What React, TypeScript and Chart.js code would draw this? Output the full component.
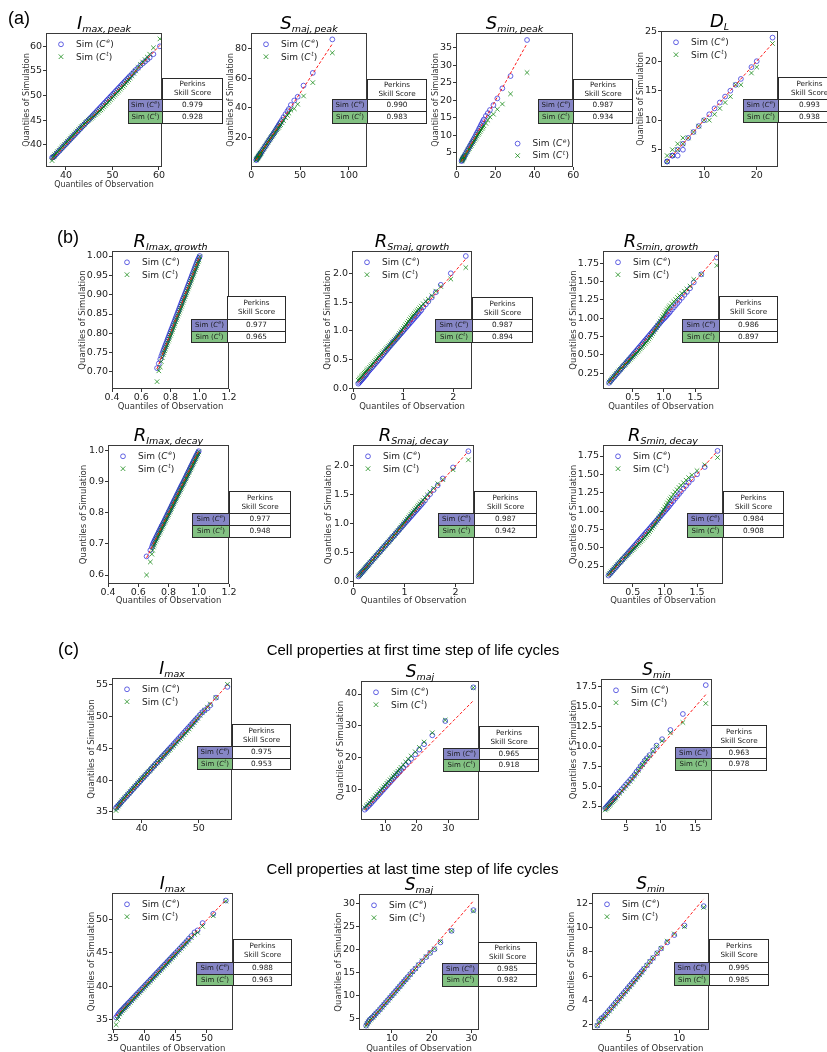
import React, { useEffect, useRef } from 'react';
import { Chart, registerables } from 'chart.js';

Chart.register(...registerables);
Chart.defaults.font.family = '"DejaVu Sans", sans-serif';

// ---------------- DATA ----------------
// (a) peak properties
const a1Obs = [37.0,37.2,37.4,37.6,37.9,38.2,38.5,38.8,39.1,39.4, 39.7,40.0,40.3,40.6,40.9,41.2,41.5,41.8,42.1,42.4, 42.7,43.0,43.3,43.6,43.9,44.2,44.5,44.8,45.1,45.4, 45.7,46.0,46.3,46.6,46.9,47.2,47.5,47.8,48.1,48.4, 48.7,49.0,49.3,49.6,49.9,50.2,50.5,50.8,51.1,51.4, 51.7,52.0,52.3,52.6,52.9,53.2,53.5,53.8,54.2,54.6, 55.0,55.5,56.0,56.5,57.0,57.5,58.0,58.8,60.2];
const a1SimE = [37.4,37.5,37.6,37.8,38.1,38.4,38.7,39.0,39.3,39.6, 39.9,40.2,40.5,40.8,41.1,41.4,41.7,42.0,42.3,42.6, 42.9,43.2,43.5,43.8,44.1,44.4,44.7,45.0,45.3,45.6, 45.9,46.2,46.5,46.8,47.1,47.4,47.7,48.0,48.3,48.6, 48.9,49.2,49.5,49.8,50.1,50.4,50.7,51.0,51.3,51.6, 51.9,52.2,52.5,52.8,53.1,53.4,53.7,54.0,54.4,54.8, 55.2,55.6,56.1,56.5,56.9,57.3,57.7,58.4,60.0];
const a1SimT = [36.8,37.4,37.7,38.0,38.3,38.6,38.9,39.2,39.5,39.8, 40.1,40.4,40.7,41.0,41.3,41.6,41.9,42.2,42.5,42.8, 43.1,43.4,43.7,43.9,44.2,44.5,44.7,45.0,45.2,45.4, 45.6,45.9,46.1,46.4,46.6,46.9,47.1,47.4,47.7,48.0, 48.3,48.6,48.9,49.2,49.5,49.8,50.1,50.4,50.7,51.0, 51.3,51.6,51.9,52.2,52.6,52.9,53.2,53.6,54.0,54.5, 55.0,55.7,56.3,56.8,57.3,57.8,58.4,59.7,61.5];
const a1Scores = ['0.979', '0.928'];
const a1XTicks = [40, 50, 60]; const a1XLabels = ['40', '50', '60'];
const a1YTicks = [40, 45, 50, 55, 60]; const a1YLabels = ['40', '45', '50', '55', '60'];

const a2Obs = [5,5.5,6,6.5,7,7.5,8,8.5,9,9.5,10,11,12,13,14,15,16,17,18,19,20,21,22,23,24,25,26,27,28,29,30,31.5,33,35,37,38.5,40.5,44,47.5,53.5,63,83];
const a2SimE = [5,5.5,6,6.5,7,7.5,8,8.5,9,9.5,10,11,12,13,14,15,16,17,18,19,20,21,22,23,24,25.1,26.2,27.3,28.3,29.4,30.5,32,33.8,35.8,37.8,39.3,42,45,47.5,55,63.5,86];
const a2SimT = [5,5.5,6,6.5,7,7.5,8,8.5,9,9.5,10,11,12,13,14,15,16,17,18,19,19.9,20.8,21.7,22.6,23.5,24.4,25.3,26.2,27,28,28.8,30,31.5,33.5,35,36.5,38.5,39.5,42.5,48,57,77];
const a2Scores = ['0.990', '0.983'];
const a2XTicks = [0, 50, 100]; const a2XLabels = ['0', '50', '100'];
const a2YTicks = [20, 40, 60, 80]; const a2YLabels = ['20', '40', '60', '80'];

const a3Obs = [2.5,2.75,3,3.25,3.5,3.75,4,4.5,5,5.5,6,6.5,7,7.5,8,8.5,9,9.5,10,10.5,11,11.5,12,12.5,13,13.5,14,15,16,17.1,18.9,20.9,23.5,27.7,36.2];
const a3SimE = [2.6,2.85,3.1,3.35,3.6,3.85,4.1,4.6,5.1,5.6,6.1,6.6,7.1,7.6,8.1,8.6,9.1,9.6,10.2,10.7,11.2,11.8,12.3,12.9,13.4,14,14.5,15.5,16.3,17.2,18.6,20.5,23.4,26.9,37.2];
const a3SimT = [2.6,2.85,3.1,3.3,3.5,3.75,4,4.4,4.9,5.3,5.8,6.2,6.7,7.1,7.6,8,8.4,8.9,9.3,9.8,10.2,10.6,11,11.5,11.9,12.3,12.7,13.4,14.3,15.2,16,17.4,18.9,21.8,27.9];
const a3Scores = ['0.987', '0.934'];
const a3XTicks = [0, 20, 40, 60]; const a3XLabels = ['0', '20', '40', '60'];
const a3YTicks = [5, 10, 15, 20, 25, 30, 35]; const a3YLabels = ['5', '10', '15', '20', '25', '30', '35'];

const a4Obs = [3,3,4,4,5,5,6,6,7,8,9,10,11,12,13,14,15,16,17,19,20,23];
const a4SimE = [3,3,4,4,4,5,5,6,7,8,9,10,11,12,13,14,15,16,17,19,20,24];
const a4SimT = [3,4,4,5,5,6,6,7,7,8,9,10,10,11,12,13,14,16,16,18,19,23];
const a4Scores = ['0.993', '0.938'];
const a4XTicks = [10, 20]; const a4XLabels = ['10', '20'];
const a4YTicks = [5, 10, 15, 20, 25]; const a4YLabels = ['5', '10', '15', '20', '25'];

// (b) growth / decay rates
const b1Obs = [0.708,0.72,0.73,0.737,0.744, 0.75,0.755,0.76,0.765,0.77,0.775,0.78,0.785,0.79,0.795, 0.8,0.805,0.81,0.815,0.82,0.825,0.83,0.835,0.84,0.845, 0.85,0.855,0.86,0.865,0.87,0.875,0.88,0.885,0.89,0.895, 0.9,0.905,0.91,0.915,0.92,0.925,0.93,0.935,0.94,0.945, 0.95,0.955,0.96,0.965,0.97,0.975,0.98,0.985,0.99,0.995,1.0];
const b1SimE = [0.71,0.722,0.733,0.741,0.748, 0.754,0.759,0.764,0.769,0.774,0.779,0.784,0.789,0.794,0.799, 0.804,0.809,0.814,0.819,0.824,0.829,0.834,0.839,0.844,0.849, 0.854,0.859,0.864,0.869,0.874,0.879,0.884,0.889,0.893,0.898, 0.903,0.908,0.913,0.918,0.923,0.928,0.933,0.938,0.943,0.948, 0.953,0.958,0.963,0.968,0.973,0.978,0.983,0.988,0.992,0.996,1.0];
const b1SimT = [0.675,0.703,0.713,0.727,0.737, 0.745,0.75,0.755,0.76,0.765,0.77,0.775,0.78,0.785,0.79, 0.795,0.8,0.805,0.81,0.815,0.82,0.825,0.83,0.835,0.84, 0.845,0.85,0.855,0.86,0.865,0.87,0.875,0.88,0.885,0.89, 0.895,0.9,0.905,0.91,0.915,0.92,0.925,0.93,0.935,0.94, 0.945,0.95,0.955,0.96,0.965,0.97,0.975,0.98,0.985,0.99,0.998];
const b1Scores = ['0.977', '0.965'];
const b1XTicks = [0.4, 0.6, 0.8, 1.0, 1.2]; const b1XLabels = ['0.4', '0.6', '0.8', '1.0', '1.2'];
const b1YTicks = [0.7, 0.75, 0.8, 0.85, 0.9, 0.95, 1.0]; const b1YLabels = ['0.70', '0.75', '0.80', '0.85', '0.90', '0.95', '1.00'];

const b2Obs = [0.1,0.12,0.14,0.16,0.18,0.2,0.22,0.24,0.26,0.28, 0.3,0.325,0.35,0.375,0.4,0.425,0.45,0.475,0.5,0.525, 0.55,0.575,0.6,0.625,0.65,0.675,0.7,0.725,0.75,0.775, 0.8,0.825,0.85,0.875,0.9,0.925,0.95,0.975,1.0,1.025, 1.05,1.075,1.1,1.125,1.15,1.175,1.2,1.225,1.25,1.275, 1.3,1.33,1.36,1.4,1.45,1.5,1.57,1.65,1.75,1.95,2.25];
const b2SimE = [0.08,0.1,0.12,0.14,0.16,0.18,0.2,0.22,0.24,0.27, 0.29,0.315,0.34,0.365,0.39,0.415,0.44,0.466,0.491,0.517, 0.542,0.568,0.594,0.62,0.646,0.672,0.698,0.724,0.75,0.776, 0.8,0.825,0.85,0.875,0.9,0.925,0.95,0.975,1.0,1.025, 1.05,1.075,1.1,1.125,1.15,1.175,1.2,1.225,1.25,1.275, 1.3,1.33,1.36,1.41,1.46,1.51,1.58,1.67,1.8,2.0,2.3];
const b2SimT = [0.14,0.16,0.18,0.2,0.22,0.24,0.26,0.28,0.3,0.32, 0.34,0.365,0.39,0.415,0.44,0.465,0.49,0.515,0.54,0.565, 0.59,0.613,0.636,0.659,0.682,0.705,0.728,0.752,0.776,0.8, 0.824,0.848,0.872,0.897,0.925,0.955,0.985,1.015,1.045,1.075, 1.105,1.135,1.165,1.195,1.225,1.25,1.275,1.3,1.325,1.35, 1.375,1.4,1.43,1.47,1.51,1.55,1.61,1.69,1.77,1.9,2.1];
const b2Scores = ['0.987', '0.894'];
const b2XTicks = [0, 1, 2]; const b2XLabels = ['0', '1', '2'];
const b2YTicks = [0, 0.5, 1.0, 1.5, 2.0]; const b2YLabels = ['0.0', '0.5', '1.0', '1.5', '2.0'];

const b3Obs = [0.12,0.14,0.16,0.18,0.2,0.22,0.24,0.26,0.28,0.3, 0.32,0.34,0.36,0.38,0.4,0.42,0.44,0.46,0.48,0.5, 0.52,0.54,0.56,0.58,0.6,0.62,0.64,0.66,0.68,0.7, 0.72,0.74,0.76,0.78,0.8,0.82,0.84,0.86,0.88,0.9, 0.92,0.94,0.96,0.98,1.0,1.02,1.04,1.06,1.08,1.1, 1.13,1.16,1.19,1.22,1.25,1.29,1.33,1.37,1.42,1.48,1.6,1.85];
const b3SimE = [0.12,0.14,0.16,0.18,0.2,0.22,0.24,0.26,0.28,0.3, 0.32,0.34,0.36,0.38,0.4,0.42,0.44,0.46,0.48,0.5, 0.52,0.54,0.56,0.58,0.6,0.62,0.64,0.66,0.68,0.7, 0.72,0.74,0.76,0.78,0.8,0.82,0.84,0.86,0.88,0.9, 0.92,0.94,0.96,0.98,0.995,1.013,1.032,1.051,1.07,1.09, 1.12,1.15,1.18,1.21,1.24,1.28,1.32,1.36,1.41,1.49,1.6,1.83];
const b3SimT = [0.13,0.15,0.17,0.19,0.21,0.23,0.25,0.27,0.29,0.305, 0.322,0.339,0.356,0.373,0.39,0.407,0.424,0.441,0.458,0.475, 0.492,0.51,0.528,0.546,0.564,0.582,0.6,0.619,0.638,0.657, 0.677,0.698,0.72,0.743,0.767,0.792,0.818,0.845,0.873,0.902, 0.932,0.962,0.992,1.022,1.05,1.078,1.104,1.128,1.15,1.172, 1.2,1.228,1.256,1.284,1.31,1.34,1.37,1.4,1.44,1.53,1.6,1.72];
const b3Scores = ['0.986', '0.897'];
const b3XTicks = [0.5, 1.0, 1.5]; const b3XLabels = ['0.5', '1.0', '1.5'];
const b3YTicks = [0.25, 0.5, 0.75, 1.0, 1.25, 1.5, 1.75]; const b3YLabels = ['0.25', '0.50', '0.75', '1.00', '1.25', '1.50', '1.75'];

const b4Obs = [0.655,0.68,0.69,0.695, 0.7,0.705,0.71,0.715,0.72,0.725,0.73,0.735,0.74,0.745, 0.75,0.755,0.76,0.765,0.77,0.775,0.78,0.785,0.79,0.795, 0.8,0.805,0.81,0.815,0.82,0.825,0.83,0.835,0.84,0.845, 0.85,0.855,0.86,0.865,0.87,0.875,0.88,0.885,0.89,0.895, 0.9,0.905,0.91,0.915,0.92,0.925,0.93,0.935,0.94,0.945, 0.95,0.955,0.96,0.965,0.97,0.975,0.98,0.985,0.99,0.995,1.0];
const b4SimE = [0.66,0.68,0.69,0.697, 0.703,0.708,0.713,0.718,0.723,0.728,0.733,0.738,0.743,0.748, 0.753,0.758,0.762,0.767,0.772,0.777,0.782,0.787,0.792,0.797, 0.802,0.807,0.812,0.817,0.822,0.827,0.832,0.837,0.842,0.847, 0.852,0.857,0.862,0.867,0.872,0.877,0.882,0.887,0.891,0.896, 0.901,0.906,0.911,0.916,0.921,0.926,0.931,0.936,0.941,0.946, 0.951,0.956,0.961,0.966,0.971,0.976,0.981,0.986,0.99,0.995,0.999];
const b4SimT = [0.60,0.642,0.667,0.68, 0.69,0.697,0.703,0.709,0.715,0.72,0.725,0.73,0.735,0.74, 0.745,0.75,0.755,0.76,0.765,0.77,0.775,0.78,0.785,0.79, 0.795,0.8,0.805,0.81,0.815,0.82,0.825,0.83,0.835,0.84, 0.845,0.85,0.855,0.86,0.865,0.87,0.875,0.88,0.885,0.89, 0.895,0.9,0.905,0.91,0.915,0.92,0.925,0.93,0.935,0.94, 0.945,0.95,0.955,0.96,0.965,0.97,0.975,0.98,0.985,0.99,0.997];
const b4Scores = ['0.977', '0.948'];
const b4XTicks = [0.4, 0.6, 0.8, 1.0, 1.2]; const b4XLabels = ['0.4', '0.6', '0.8', '1.0', '1.2'];
const b4YTicks = [0.6, 0.7, 0.8, 0.9, 1.0]; const b4YLabels = ['0.6', '0.7', '0.8', '0.9', '1.0'];

const b5Obs = [0.1,0.12,0.14,0.16,0.18,0.2,0.22,0.24,0.26,0.28, 0.3,0.325,0.35,0.375,0.4,0.425,0.45,0.475,0.5,0.525, 0.55,0.575,0.6,0.625,0.65,0.675,0.7,0.725,0.75,0.775, 0.8,0.825,0.85,0.875,0.9,0.925,0.95,0.975,1.0,1.025, 1.05,1.075,1.1,1.125,1.15,1.175,1.2,1.225,1.25,1.275, 1.3,1.33,1.36,1.4,1.45,1.5,1.57,1.65,1.75,1.95,2.25];
const b5SimE = [0.09,0.11,0.13,0.155,0.175,0.195,0.215,0.235,0.255,0.275, 0.3,0.325,0.35,0.375,0.4,0.425,0.45,0.475,0.5,0.525, 0.55,0.575,0.6,0.625,0.65,0.675,0.7,0.725,0.75,0.775, 0.8,0.825,0.85,0.875,0.9,0.925,0.95,0.975,1.0,1.025, 1.05,1.075,1.1,1.125,1.15,1.175,1.2,1.225,1.25,1.275, 1.3,1.33,1.36,1.4,1.46,1.51,1.58,1.66,1.78,1.97,2.25];
const b5SimT = [0.1,0.12,0.14,0.16,0.18,0.2,0.22,0.24,0.26,0.28, 0.3,0.325,0.35,0.375,0.4,0.425,0.45,0.475,0.5,0.525, 0.55,0.575,0.6,0.625,0.65,0.675,0.7,0.725,0.75,0.775, 0.8,0.828,0.856,0.884,0.912,0.94,0.968,0.996,1.024,1.052, 1.08,1.108,1.136,1.164,1.19,1.216,1.242,1.268,1.294,1.32, 1.345,1.375,1.405,1.445,1.495,1.545,1.61,1.69,1.76,1.93,2.1];
const b5Scores = ['0.987', '0.942'];
const b5XTicks = [0, 1, 2]; const b5XLabels = ['0', '1', '2'];
const b5YTicks = [0, 0.5, 1.0, 1.5, 2.0]; const b5YLabels = ['0.0', '0.5', '1.0', '1.5', '2.0'];

const b6Obs = [0.12,0.14,0.16,0.18,0.2,0.22,0.24,0.26,0.28,0.3, 0.32,0.34,0.36,0.38,0.4,0.42,0.44,0.46,0.48,0.5, 0.52,0.54,0.56,0.58,0.6,0.62,0.64,0.66,0.68,0.7, 0.72,0.74,0.76,0.78,0.8,0.82,0.84,0.86,0.88,0.9, 0.92,0.94,0.96,0.98,1.0,1.02,1.04,1.06,1.08,1.1, 1.13,1.16,1.19,1.22,1.25,1.29,1.33,1.37,1.42,1.5,1.62,1.82];
const b6SimE = [0.12,0.14,0.16,0.18,0.2,0.22,0.24,0.26,0.28,0.3, 0.32,0.34,0.36,0.38,0.4,0.42,0.44,0.46,0.48,0.5, 0.52,0.54,0.56,0.58,0.6,0.62,0.64,0.66,0.68,0.7, 0.72,0.74,0.76,0.78,0.8,0.82,0.84,0.86,0.88,0.9, 0.92,0.94,0.96,0.98,1.0,1.02,1.04,1.06,1.085,1.105, 1.135,1.168,1.2,1.232,1.264,1.305,1.345,1.385,1.43,1.5,1.6,1.82];
const b6SimT = [0.13,0.15,0.17,0.19,0.21,0.23,0.25,0.27,0.29,0.305, 0.322,0.339,0.356,0.373,0.39,0.407,0.424,0.441,0.458,0.475, 0.492,0.51,0.528,0.546,0.564,0.582,0.6,0.619,0.638,0.657, 0.677,0.698,0.72,0.743,0.767,0.792,0.818,0.845,0.873,0.902, 0.932,0.962,0.992,1.022,1.052,1.082,1.11,1.138,1.165,1.19, 1.225,1.26,1.29,1.32,1.35,1.385,1.42,1.455,1.49,1.55,1.63,1.73];
const b6Scores = ['0.984', '0.908'];
const b6XTicks = [0.5, 1.0, 1.5]; const b6XLabels = ['0.5', '1.0', '1.5'];
const b6YTicks = [0.25, 0.5, 0.75, 1.0, 1.25, 1.5, 1.75]; const b6YLabels = ['0.25', '0.50', '0.75', '1.00', '1.25', '1.50', '1.75'];

// (c) first time step
const c1Obs = [35.5,35.7,35.9,36.1,36.3,36.5,36.75,37.0,37.25,37.5, 37.75,38.0,38.25,38.5,38.75,39.0,39.25,39.5,39.75,40.0, 40.25,40.5,40.75,41.0,41.25,41.5,41.75,42.0,42.25,42.5, 42.75,43.0,43.25,43.5,43.75,44.0,44.25,44.5,44.75,45.0, 45.3,45.6,45.9,46.2,46.5,46.8,47.1,47.4,47.7,48.0, 48.3,48.6,48.9,49.2,49.5,49.8,50.2,50.6,51.0,51.5,52.0,53.0,55.0];
const c1SimE = [35.6,35.8,36.0,36.2,36.4,36.6,36.85,37.1,37.35,37.6, 37.85,38.1,38.35,38.6,38.85,39.1,39.35,39.6,39.85,40.1, 40.35,40.6,40.85,41.1,41.35,41.6,41.85,42.1,42.35,42.6, 42.85,43.1,43.35,43.6,43.85,44.1,44.35,44.6,44.85,45.1, 45.4,45.7,46.0,46.3,46.6,46.9,47.2,47.5,47.8,48.1, 48.4,48.7,49.0,49.3,49.6,49.9,50.3,50.7,51.0,51.3,51.8,53.0,54.7];
const c1SimT = [35.2,35.6,35.9,36.2,36.4,36.7,36.95,37.2,37.45,37.7, 37.95,38.2,38.45,38.7,38.95,39.2,39.45,39.7,39.95,40.2, 40.4,40.65,40.9,41.15,41.4,41.6,41.85,42.1,42.3,42.55, 42.8,43.0,43.25,43.5,43.7,43.95,44.2,44.4,44.65,44.85, 45.15,45.4,45.7,46.0,46.3,46.55,46.85,47.15,47.45,47.75, 48.05,48.4,48.7,49.05,49.4,49.75,50.2,50.6,51.0,51.5,52.0,53.0,55.1];
const c1Scores = ['0.975', '0.953'];
const c1XTicks = [40, 50]; const c1XLabels = ['40', '50'];
const c1YTicks = [35, 40, 45, 50, 55]; const c1YLabels = ['35', '40', '45', '50', '55'];

const c2Obs = [3.5,4,4.5,5,5.5,6,6.5,7,7.5,8,8.5,9,9.5,10,10.5,11,11.5,12,12.5,13,13.5,14,14.5,15,15.7,16.5,17.3,18.2,19.5,20.8,22.3,24.9,29,37.9];
const c2SimE = [3.6,4.1,4.6,5.1,5.6,6.2,6.7,7.3,7.8,8.4,8.9,9.5,10,10.6,11.1,11.7,12.2,12.8,13.3,13.9,14.4,15,15.5,16.1,16.8,17.7,18.6,19.6,21,22.5,24.2,27,31.5,42.1];
const c2SimT = [4.2,4.8,5.3,5.8,6.3,6.9,7.4,8,8.5,9.1,9.6,10.2,10.8,11.3,11.9,12.4,13,13.5,14.1,14.6,15.2,15.7,16.3,16.9,17.7,18.6,19.5,20.5,21.8,23.2,24.9,27.8,31.8,42];
const c2Scores = ['0.965', '0.918'];
const c2XTicks = [10, 20, 30]; const c2XLabels = ['10', '20', '30'];
const c2YTicks = [10, 20, 30, 40]; const c2YLabels = ['10', '20', '30', '40'];

const c3Obs = [2,2.15,2.3,2.45,2.6,2.75,2.9,3.05,3.2,3.35,3.5,3.8,4.1,4.4,4.7,5,5.3,5.6,5.9,6.2,6.5,6.8,7.1,7.4,7.7,8,8.4,8.9,9.4,10.2,11.4,13.2,16.5];
const c3SimE = [2.2,2.35,2.5,2.65,2.8,2.95,3.1,3.25,3.4,3.55,3.7,4,4.3,4.6,4.9,5.2,5.5,5.8,6.1,6.4,6.8,7.1,7.5,7.8,8.2,8.5,8.9,9.5,10.1,10.9,12.06,14.07,17.7];
const c3SimT = [2,2.15,2.3,2.45,2.6,2.75,2.9,3.05,3.2,3.35,3.5,3.8,4.1,4.4,4.7,5,5.3,5.6,5.9,6.3,6.6,7,7.4,7.7,8.1,8.4,8.8,9.4,10,10.7,11.7,13,15.4];
const c3Scores = ['0.963', '0.978'];
const c3XTicks = [5, 10, 15]; const c3XLabels = ['5', '10', '15'];
const c3YTicks = [2.5, 5, 7.5, 10, 12.5, 15, 17.5]; const c3YLabels = ['2.5', '5.0', '7.5', '10.0', '12.5', '15.0', '17.5'];

// (c) last time step
const c4Obs = [35.5,35.7,35.9,36.1,36.3,36.5,36.7,36.9,37.1,37.3, 37.5,37.75,38.0,38.25,38.5,38.75,39.0,39.25,39.5,39.75, 40.0,40.25,40.5,40.75,41.0,41.25,41.5,41.75,42.0,42.25, 42.5,42.75,43.0,43.25,43.5,43.75,44.0,44.25,44.5,44.75, 45.0,45.3,45.6,45.9,46.2,46.5,46.8,47.1,47.5,48.0, 48.5,49.3,51.0,53.0];
const c4SimE = [35.3,35.6,35.85,36.1,36.3,36.5,36.7,36.9,37.1,37.3, 37.5,37.75,38.0,38.25,38.5,38.75,39.0,39.25,39.5,39.75, 40.0,40.25,40.5,40.75,41.0,41.25,41.5,41.75,42.0,42.25, 42.5,42.75,43.0,43.25,43.5,43.75,44.0,44.25,44.5,44.75, 45.0,45.3,45.6,45.9,46.2,46.5,46.8,47.15,47.55,48.1, 48.4,49.5,50.9,52.9];
const c4SimT = [34.2,35.0,35.4,35.8,36.05,36.3,36.5,36.7,36.9,37.1, 37.3,37.55,37.8,38.05,38.3,38.55,38.8,39.05,39.3,39.55, 39.8,40.05,40.3,40.55,40.8,41.05,41.3,41.55,41.8,42.05, 42.3,42.55,42.8,43.05,43.3,43.55,43.8,44.05,44.3,44.55, 44.8,45.1,45.4,45.7,46.0,46.3,46.6,46.9,47.3,47.8, 48.1,49.0,50.6,52.8];
const c4Scores = ['0.988', '0.963'];
const c4XTicks = [35, 40, 45, 50]; const c4XLabels = ['35', '40', '45', '50'];
const c4YTicks = [35, 40, 45, 50]; const c4YLabels = ['35', '40', '45', '50'];

const c5Obs = [3.5,3.8,4.1,4.4,4.8,5.2,5.6,6,6.5,7,7.5,8,8.5,9,9.5,10,10.5,11,11.5,12,12.5,13,13.5,14,14.6,15.2,15.9,16.7,17.6,18.6,19.6,20.7,22.2,25,30.5];
const c5SimE = [3.4,3.9,4.3,4.7,5.0,5.3,5.7,6.1,6.5,7,7.5,8,8.5,9,9.5,10,10.5,11,11.5,12,12.5,13,13.5,14,14.6,15.2,15.8,16.6,17.4,18.3,19.2,20,21.5,24,28.5];
const c5SimT = [3.4,3.8,4.2,4.6,4.9,5.2,5.6,6,6.4,6.9,7.4,7.9,8.4,8.9,9.4,9.9,10.4,10.9,11.4,11.9,12.4,12.9,13.4,13.9,14.5,15.1,15.8,16.6,17.5,18.4,19.3,20.1,21.7,24,28.3];
const c5Scores = ['0.985', '0.982'];
const c5XTicks = [10, 20, 30]; const c5XLabels = ['10', '20', '30'];
const c5YTicks = [5, 10, 15, 20, 25, 30]; const c5YLabels = ['5', '10', '15', '20', '25', '30'];

const c6Obs = [1.9,2.1,2.3,2.5,2.7,2.9,3.1,3.3,3.5,3.7,3.9,4.1,4.3,4.5,4.7,4.9,5.1,5.3,5.5,5.7,5.9,6.1,6.3,6.5,6.8,7.1,7.4,7.8,8.2,8.8,9.5,10.5,12.4];
const c6SimE = [1.9,2.3,2.5,2.6,2.8,3,3.2,3.4,3.6,3.8,4,4.2,4.4,4.6,4.8,5,5.2,5.4,5.6,5.8,6,6.2,6.4,6.6,6.9,7.2,7.5,7.9,8.3,8.8,9.4,10.2,11.8];
const c6SimT = [1.9,2.2,2.4,2.5,2.7,2.9,3.1,3.3,3.5,3.7,3.9,4.1,4.3,4.5,4.7,4.9,5.1,5.3,5.5,5.7,5.9,6.1,6.3,6.6,6.9,7.2,7.5,7.9,8.3,8.9,9.5,10.1,11.7];
const c6Scores = ['0.995', '0.985'];
const c6XTicks = [5, 10]; const c6XLabels = ['5', '10'];
const c6YTicks = [2, 4, 6, 8, 10, 12]; const c6YLabels = ['2', '4', '6', '8', '10', '12'];

// ---------------- STYLE ----------------
const BLUE = 'rgba(35,35,215,0.7)';
const GREEN = 'rgba(0,128,0,0.72)';
const FRAME = '#3a3a3a';
const CELL_E = '#8686c6';
const CELL_T = '#82c182';

type Panel = {
  title: [string, string];
  obs: number[]; simE: number[]; simT: number[]; scores: string[];
  xTicks: number[]; xLabels: string[]; yTicks: number[]; yLabels: string[];
  xlim: [number, number]; ylim: [number, number];
  box: [number, number, number, number];
  yOff: number; xTitleY: number | null;
  legend: [number, number, number];
  table: number[];
  titleFs: number; subFs: number; axFs: number; tickFs: number;
};

const rowA = { titleFs: 18, subFs: 9.5, axFs: 8, tickFs: 9.5 };
const rowB = { titleFs: 18, subFs: 9.5, axFs: 8.5, tickFs: 9.5 };
const rowC = { titleFs: 17, subFs: 9.5, axFs: 8.5, tickFs: 9.5 };
const LG: [number, number, number] = [15, 11.3, 23.7];

const PANELS: Panel[] = [
  { ...rowA, title: ['I', 'max,\u2009peak'], obs: a1Obs, simE: a1SimE, simT: a1SimT, scores: a1Scores, xTicks: a1XTicks, xLabels: a1XLabels, yTicks: a1YTicks, yLabels: a1YLabels, xlim: [35.7, 60.65], ylim: [35.5, 62.7], box: [46, 33, 162, 167], yOff: 19, xTitleY: 185, legend: LG, table: [128, 162, 222, 78, 99, 111, 123] },
  { ...rowA, title: ['S', 'maj,\u2009peak'], obs: a2Obs, simE: a2SimE, simT: a2SimT, scores: a2Scores, xTicks: a2XTicks, xLabels: a2XLabels, yTicks: a2YTicks, yLabels: a2YLabels, xlim: [-0.3, 118.5], ylim: [0.34, 90.3], box: [251, 33, 367, 167], yOff: 20.5, xTitleY: null, legend: LG, table: [332, 367, 426, 79, 99, 111, 123] },
  { ...rowA, title: ['S', 'min,\u2009peak'], obs: a3Obs, simE: a3SimE, simT: a3SimT, scores: a3Scores, xTicks: a3XTicks, xLabels: a3XLabels, yTicks: a3YTicks, yLabels: a3YLabels, xlim: [-0.36, 59.85], ylim: [0.91, 39.2], box: [456, 33, 573, 167], yOff: 20, xTitleY: null, legend: [61.6, 110.6, 122.6], table: [538, 573, 632, 79, 99, 111, 123] },
  { ...rowA, title: ['D', 'L'], obs: a4Obs, simE: a4SimE, simT: a4SimT, scores: a4Scores, xTicks: a4XTicks, xLabels: a4XLabels, yTicks: a4YTicks, yLabels: a4YLabels, xlim: [1.84, 24.04], ylim: [2.07, 25.12], box: [661, 31, 778, 167], yOff: 20, xTitleY: null, legend: LG, table: [743, 778, 840, 77, 99, 111, 122] },

  { ...rowB, title: ['R', 'Imax,\u2009growth'], obs: b1Obs, simE: b1SimE, simT: b1SimT, scores: b1Scores, xTicks: b1XTicks, xLabels: b1XLabels, yTicks: b1YTicks, yLabels: b1YLabels, xlim: [0.4, 1.2], ylim: [0.656, 1.013], box: [112, 251, 229, 389], yOff: 29.4, xTitleY: 406.7, legend: LG, table: [191, 227, 285, 296, 319, 331, 342] },
  { ...rowB, title: ['R', 'Smaj,\u2009growth'], obs: b2Obs, simE: b2SimE, simT: b2SimT, scores: b2Scores, xTicks: b2XTicks, xLabels: b2XLabels, yTicks: b2YTicks, yLabels: b2YLabels, xlim: [-0.026, 2.374], ylim: [-0.012, 2.388], box: [352, 251, 472, 389], yOff: 24, xTitleY: 406.7, legend: LG, table: [435, 472, 532, 297, 319, 331, 342] },
  { ...rowB, title: ['R', 'Smin,\u2009growth'], obs: b3Obs, simE: b3SimE, simT: b3SimT, scores: b3Scores, xTicks: b3XTicks, xLabels: b3XLabels, yTicks: b3YTicks, yLabels: b3YLabels, xlim: [0.023, 1.885], ylim: [0.036, 1.918], box: [603, 251, 719, 389], yOff: 29.3, xTitleY: 406.7, legend: LG, table: [682, 719, 777, 296, 319, 331, 342] },
  { ...rowB, title: ['R', 'Imax,\u2009decay'], obs: b4Obs, simE: b4SimE, simT: b4SimT, scores: b4Scores, xTicks: b4XTicks, xLabels: b4XLabels, yTicks: b4YTicks, yLabels: b4YLabels, xlim: [0.4, 1.2], ylim: [0.571, 1.019], box: [108, 445, 229, 584], yOff: 24, xTitleY: 600.7, legend: LG, table: [192, 229, 290, 491, 513, 525, 537] },
  { ...rowB, title: ['R', 'Smaj,\u2009decay'], obs: b5Obs, simE: b5SimE, simT: b5SimT, scores: b5Scores, xTicks: b5XTicks, xLabels: b5XLabels, yTicks: b5YTicks, yLabels: b5YLabels, xlim: [-0.0075, 2.36], ylim: [-0.04, 2.357], box: [353, 445, 474, 584], yOff: 24, xTitleY: 600.7, legend: LG, table: [438, 474, 536, 491, 513, 525, 537] },
  { ...rowB, title: ['R', 'Smin,\u2009decay'], obs: b6Obs, simE: b6SimE, simT: b6SimT, scores: b6Scores, xTicks: b6XTicks, xLabels: b6XLabels, yTicks: b6YTicks, yLabels: b6YLabels, xlim: [0.035, 1.905], ylim: [0.005, 1.9], box: [603, 445, 723, 584], yOff: 29, xTitleY: 600.7, legend: LG, table: [687, 723, 783, 491, 513, 525, 537] },

  { ...rowC, title: ['I', 'max'], obs: c1Obs, simE: c1SimE, simT: c1SimT, scores: c1Scores, xTicks: c1XTicks, xLabels: c1XLabels, yTicks: c1YTicks, yLabels: c1YLabels, xlim: [34.8, 55.8], ylim: [33.7, 56.1], box: [112, 678, 232, 820], yOff: 20, xTitleY: null, legend: LG, table: [197, 232, 290, 724, 746, 758, 769] },
  { ...rowC, title: ['S', 'maj'], obs: c2Obs, simE: c2SimE, simT: c2SimT, scores: c2Scores, xTicks: c2XTicks, xLabels: c2XLabels, yTicks: c2YTicks, yLabels: c2YLabels, xlim: [2.3, 39.7], ylim: [0.35, 44.1], box: [361, 681, 479, 820], yOff: 20, xTitleY: null, legend: LG, table: [443, 479, 538, 726, 748, 759, 771] },
  { ...rowC, title: ['S', 'min'], obs: c3Obs, simE: c3SimE, simT: c3SimT, scores: c3Scores, xTicks: c3XTicks, xLabels: c3XLabels, yTicks: c3YTicks, yLabels: c3YLabels, xlim: [1.39, 17.4], ylim: [0.74, 18.47], box: [601, 679, 712, 820], yOff: 27.4, xTitleY: null, legend: LG, table: [675, 711, 766, 725, 747, 758, 770] },
  { ...rowC, title: ['I', 'max'], obs: c4Obs, simE: c4SimE, simT: c4SimT, scores: c4Scores, xTicks: c4XTicks, xLabels: c4XLabels, yTicks: c4YTicks, yLabels: c4YLabels, xlim: [34.84, 54.15], ylim: [33.4, 54.03], box: [112, 893, 233, 1030], yOff: 20.5, xTitleY: 1048.3, legend: LG, table: [196, 233, 291, 939, 962, 974, 985] },
  { ...rowC, title: ['S', 'maj'], obs: c5Obs, simE: c5SimE, simT: c5SimT, scores: c5Scores, xTicks: c5XTicks, xLabels: c5XLabels, yTicks: c5YTicks, yLabels: c5YLabels, xlim: [1.7, 31.9], ylim: [2.46, 32], box: [359, 894, 479, 1030], yOff: 20, xTitleY: 1048.3, legend: LG, table: [442, 478, 536, 942, 963, 974, 986] },
  { ...rowC, title: ['S', 'min'], obs: c6Obs, simE: c6SimE, simT: c6SimT, scores: c6Scores, xTicks: c6XTicks, xLabels: c6XLabels, yTicks: c6YTicks, yLabels: c6YLabels, xlim: [1.375, 12.925], ylim: [1.53, 12.89], box: [592, 893, 709, 1030], yOff: 20, xTitleY: 1048.3, legend: LG, table: [674, 709, 768, 939, 962, 974, 985] },
];

// ---------------- PLUGIN: frame + legend ----------------
function decoPlugin(p: Panel) {
  return {
    id: 'qqDeco',
    afterDraw(chart: any) {
      const { ctx, chartArea: ca } = chart;
      ctx.save();
      ctx.strokeStyle = FRAME;
      ctx.lineWidth = 1;
      ctx.strokeRect(Math.round(ca.left) + 0.5, Math.round(ca.top) + 0.5, Math.round(ca.right - ca.left) - 1, Math.round(ca.bottom - ca.top) - 1);
      const fs = 9;
      const items = [
        { kind: 'circle', color: BLUE, sup: 'e' },
        { kind: 'x', color: GREEN, sup: 't' },
      ];
      items.forEach((it, i) => {
        const mx = ca.left + p.legend[0];
        const my = ca.top + p.legend[i + 1];
        ctx.strokeStyle = it.color;
        ctx.lineWidth = 1;
        ctx.beginPath();
        if (it.kind === 'circle') {
          ctx.arc(mx, my, 2.4, 0, Math.PI * 2);
        } else {
          const d = 2.3;
          ctx.moveTo(mx - d, my - d); ctx.lineTo(mx + d, my + d);
          ctx.moveTo(mx + d, my - d); ctx.lineTo(mx - d, my + d);
        }
        ctx.stroke();
        ctx.fillStyle = '#222';
        ctx.textBaseline = 'middle';
        ctx.textAlign = 'left';
        let tx = mx + 15;
        ctx.font = `${fs}px "DejaVu Sans"`;
        ctx.fillText('Sim (', tx, my + 0.5);
        tx += ctx.measureText('Sim (').width;
        ctx.font = `italic ${fs}px "DejaVu Sans"`;
        ctx.fillText('C', tx, my + 0.5);
        tx += ctx.measureText('C').width + 0.5;
        ctx.font = `italic ${fs * 0.68}px "DejaVu Sans"`;
        ctx.fillText(it.sup, tx, my - 2.6);
        tx += ctx.measureText(it.sup).width + 0.3;
        ctx.font = `${fs}px "DejaVu Sans"`;
        ctx.fillText(')', tx, my + 0.5);
      });
      ctx.restore();
    },
  };
}

// ---------------- COMPONENTS ----------------
function QQPanel({ p }: { p: Panel }) {
  const ref = useRef<HTMLCanvasElement>(null);
  const [L, T, R, B] = p.box;
  const W = R - L + 57;
  const H = B - T + 45;
  useEffect(() => {
    const lh = p.axFs * 1.2;
    const yw = p.yOff + lh / 2;
    const xh = p.xTitleY != null ? p.xTitleY - B + lh / 2 : 20;
    const lo = Math.min(...p.obs);
    const hi = Math.max(...p.obs);
    const chart = new Chart(ref.current as HTMLCanvasElement, {
      type: 'scatter',
      data: {
        datasets: [
          {
            label: 'fit', data: [{ x: lo, y: lo }, { x: hi, y: hi }], showLine: true,
            borderColor: '#ff1a1a', borderWidth: 1, borderDash: [3, 2], pointRadius: 0, pointHoverRadius: 0, order: 0,
          } as any,
          {
            label: 'Sim (Ct)', data: p.obs.map((x, i) => ({ x, y: p.simT[i] })),
            pointStyle: 'crossRot', pointRadius: 3.2, pointBorderColor: GREEN, borderColor: GREEN,
            pointBorderWidth: 1, pointBackgroundColor: 'rgba(0,0,0,0)', backgroundColor: 'rgba(0,0,0,0)', order: 1,
          } as any,
          {
            label: 'Sim (Ce)', data: p.obs.map((x, i) => ({ x, y: p.simE[i] })),
            pointStyle: 'circle', pointRadius: 2.4, pointBorderColor: BLUE, borderColor: BLUE,
            pointBorderWidth: 1, pointBackgroundColor: 'rgba(0,0,0,0)', backgroundColor: 'rgba(0,0,0,0)', order: 2,
          } as any,
        ],
      },
      options: {
        responsive: false,
        animation: false,
        events: [],
        layout: { padding: { left: 45 - yw, top: 15, right: 12, bottom: 30 - xh } },
        plugins: { legend: { display: false }, tooltip: { enabled: false } },
        scales: {
          x: {
            type: 'linear', min: p.xlim[0], max: p.xlim[1],
            afterBuildTicks: (s: any) => { s.ticks = p.xTicks.map((v) => ({ value: v })); },
            afterFit: (s: any) => { s.height = xh; },
            ticks: {
              callback: (_v: any, i: number) => p.xLabels[i],
              autoSkip: false, maxRotation: 0, minRotation: 0, padding: 0,
              color: '#222', font: { size: p.tickFs, family: '"DejaVu Sans"' },
            },
            grid: { display: true, drawOnChartArea: false, drawTicks: true, tickLength: 3, color: '#333', lineWidth: 1 },
            border: { display: false },
            title: {
              display: p.xTitleY != null, text: 'Quantiles of Observation', color: '#333',
              font: { size: p.axFs, family: '"DejaVu Sans"' }, padding: 0,
            },
          },
          y: {
            type: 'linear', min: p.ylim[0], max: p.ylim[1],
            afterBuildTicks: (s: any) => { s.ticks = p.yTicks.map((v) => ({ value: v })); },
            afterFit: (s: any) => { s.width = yw; },
            ticks: {
              callback: (_v: any, i: number) => p.yLabels[i],
              autoSkip: false, padding: 1,
              color: '#222', font: { size: p.tickFs, family: '"DejaVu Sans"' },
            },
            grid: { display: true, drawOnChartArea: false, drawTicks: true, tickLength: 3, color: '#333', lineWidth: 1 },
            border: { display: false },
            title: {
              display: true, text: 'Quantiles of Simulation', color: '#333',
              font: { size: p.axFs, family: '"DejaVu Sans"' }, padding: 0,
            },
          },
        },
      } as any,
      plugins: [decoPlugin(p)],
    });
    return () => chart.destroy();
  }, []);
  return (
    <canvas
      ref={ref}
      width={W}
      height={H}
      style={{ position: 'absolute', left: L - 45, top: T - 15, width: W, height: H }}
    />
  );
}

function PanelTitle({ p }: { p: Panel }) {
  const [L, T, R] = p.box;
  const fs = p.titleFs;
  const base = T - 4;
  return (
    <div
      style={{
        position: 'absolute', left: L - 30, width: R - L + 60, top: base - 0.846 * fs, height: fs,
        lineHeight: `${fs}px`, fontSize: fs, fontFamily: '"DejaVu Sans"', fontStyle: 'italic',
        textAlign: 'center', whiteSpace: 'nowrap', color: '#000',
      }}
    >
      {p.title[0]}
      <span style={{ fontSize: p.subFs, position: 'relative', top: 3, lineHeight: 0 }}>{p.title[1]}</span>
    </div>
  );
}

function Cell({ x0, y0, x1, y1, bg, children, fs }: any) {
  return (
    <div
      style={{
        position: 'absolute', left: x0, top: y0, width: x1 - x0 + 1, height: y1 - y0 + 1,
        boxSizing: 'border-box', border: '1px solid #2a2a2a', background: bg,
        display: 'flex', alignItems: 'center', justifyContent: 'center', textAlign: 'center',
        fontFamily: '"DejaVu Sans"', fontSize: fs, lineHeight: '8.6px', color: '#1a1a1a', whiteSpace: 'nowrap',
      }}
    >
      {children}
    </div>
  );
}

function SimLabel({ sup }: { sup: string }) {
  return (
    <span>
      Sim (<i>C</i>
      <span style={{ fontSize: 5, position: 'relative', top: -3, lineHeight: 0, fontStyle: 'italic' }}>{sup}</span>)
    </span>
  );
}

function ScoreTable({ p }: { p: Panel }) {
  const [x0, x1, x2, y0, y1, y2, y3] = p.table;
  return (
    <>
      <Cell x0={x1} y0={y0} x1={x2} y1={y1} bg="#fff" fs={7.2}>
        <span>Perkins<br />Skill Score</span>
      </Cell>
      <Cell x0={x0} y0={y1} x1={x1} y1={y2} bg={CELL_E} fs={7}><SimLabel sup="e" /></Cell>
      <Cell x0={x1} y0={y1} x1={x2} y1={y2} bg="#fff" fs={7.3}>{p.scores[0]}</Cell>
      <Cell x0={x0} y0={y2} x1={x1} y1={y3} bg={CELL_T} fs={7}><SimLabel sup="t" /></Cell>
      <Cell x0={x1} y0={y2} x1={x2} y1={y3} bg="#fff" fs={7.3}>{p.scores[1]}</Cell>
    </>
  );
}

function Text({ x, base, fs, children, center }: any) {
  return (
    <div
      style={{
        position: 'absolute', left: center ? x - 300 : x, width: center ? 600 : undefined,
        top: base - 0.8465 * fs, height: fs, lineHeight: `${fs}px`, fontSize: fs,
        fontFamily: '"Liberation Sans", Arial, sans-serif', color: '#000', whiteSpace: 'nowrap',
        textAlign: center ? 'center' : 'left',
      }}
    >
      {children}
    </div>
  );
}

export default function App() {
  return (
    <div style={{ position: 'absolute', left: 0, top: 0, width: 827, height: 1052, overflow: 'hidden', background: '#fff' }}>
      {PANELS.map((p, i) => <QQPanel key={`c${i}`} p={p} />)}
      <div style={{ position: 'absolute', left: 0, top: 0, width: 827, height: 1052, willChange: 'transform' }}>
        {PANELS.map((p, i) => <PanelTitle key={`t${i}`} p={p} />)}
        {PANELS.map((p, i) => <ScoreTable key={`s${i}`} p={p} />)}
        <Text x={8} base={24} fs={18}>(a)</Text>
        <Text x={57} base={243} fs={18}>(b)</Text>
        <Text x={58} base={655} fs={18}>(c)</Text>
        <Text x={413} base={655} fs={15} center>Cell properties at first time step of life cycles</Text>
        <Text x={412.5} base={874} fs={15} center>Cell properties at last time step of life cycles</Text>
      </div>
    </div>
  );
}
